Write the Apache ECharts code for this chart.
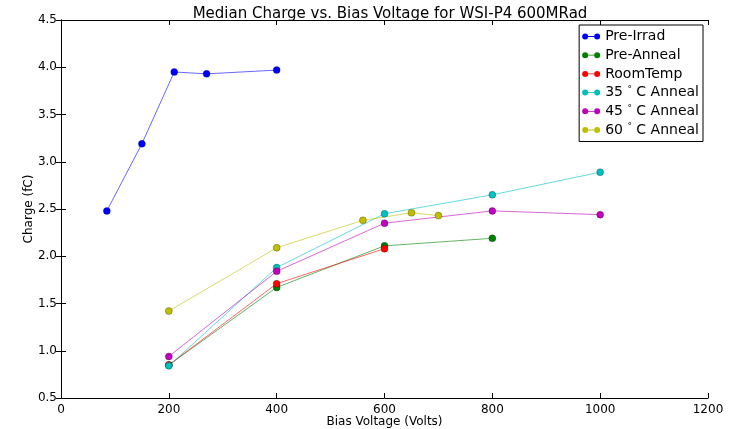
<!DOCTYPE html>
<html><head><meta charset="utf-8">
<script src="https://cdn.jsdelivr.net/npm/echarts@6/dist/echarts.min.js"></script>
<style>html,body{margin:0;padding:0;background:#fff}#c{width:730px;height:429px}</style>
</head><body><div id="c"></div>
<script>
const seriesNames = ['Pre-Irrad','Pre-Anneal','RoomTemp','35°C Anneal','45°C Anneal','60°C Anneal'];
const preIrradX = [85,150,210,270,400];
const preIrradY = [2.48,3.19,3.95,3.93,3.97];
const preAnnealX = [200,400,600,800];
const preAnnealY = [0.85,1.67,2.11,2.19];
const roomTempX = [200,400,600];
const roomTempY = [0.85,1.71,2.08];
const anneal35X = [200,400,600,800,1000];
const anneal35Y = [0.84,1.88,2.45,2.65,2.89];
const anneal45X = [200,400,600,800,1000];
const anneal45Y = [0.94,1.84,2.35,2.48,2.44];
const anneal60X = [200,400,560,650,700];
const anneal60Y = [1.42,2.09,2.38,2.46,2.43];
const xTicks = [0,200,400,600,800,1000,1200];
const yTicks = [0.5,1.0,1.5,2.0,2.5,3.0,3.5,4.0,4.5];

const colors = ['#0000ff','#008000','#ff0000','#00bfbf','#bf00bf','#bfbf00'];
const xs = [preIrradX,preAnnealX,roomTempX,anneal35X,anneal45X,anneal60X];
const ys = [preIrradY,preAnnealY,roomTempY,anneal35Y,anneal45Y,anneal60Y];
const font = 'DejaVu Sans';

const chart = echarts.init(document.getElementById('c'), null, {renderer:'canvas'});
const series = seriesNames.map((n,i)=>({
  name:n, type:'line', data: xs[i].map((x,j)=>[x, ys[i][j]]),
  symbol:'circle', symbolSize:7, showSymbol:true,
  lineStyle:{width:1, color:colors[i], opacity:0.6},
  itemStyle:{color:colors[i], borderColor:'rgba(0,0,0,0.5)', borderWidth:0.5},
  emphasis:{disabled:true}, animation:false
}));
const axisCommon = {
  axisLine:{show:true, lineStyle:{color:'#000', width:1}},
  axisTick:{show:true, inside:true, length:5, lineStyle:{color:'#000'}},
  splitLine:{show:false}
};
const icon = 'path://M3,0A3,3,0,1,1,3,6A3,3,0,1,1,3,0ZM15,0A3,3,0,1,1,15,6A3,3,0,1,1,15,0ZM3,2.6L15,2.6L15,3.4L3,3.4Z';
chart.setOption({
  animation:false,
  title:{text:'Median Charge vs. Bias Voltage for WSI-P4 600MRad', left:385, top:2, textAlign:'center',
    textStyle:{fontFamily:font, fontSize:15, fontWeight:'normal', color:'#000'}},
  grid:{left:61, right:22, top:20, bottom:31, outerBoundsMode:'none', containLabel:false},
  legend:{right:27, top:25, orient:'vertical', itemGap:3.7, itemWidth:18, itemHeight:6,
    padding:[4,4,4,3], borderColor:'#000', borderWidth:1, backgroundColor:'#fff',
    icon: icon, itemStyle:{borderWidth:0},
    formatter: n => n.replace('°C', ' {deg|°} C'),
    textStyle:{fontFamily:font, fontSize:14, color:'#000', lineHeight:15,
      rich:{deg:{fontSize:9, verticalAlign:'top', lineHeight:10, padding:[0,0,6,0]}}},
    data: seriesNames},
  xAxis:[Object.assign({type:'value', min:0, max:1200, interval:200,
      name:'Bias Voltage (Volts)', nameLocation:'middle', nameGap:18, nameMoveOverlap:false,
      nameTextStyle:{fontFamily:font, fontSize:12, color:'#000'},
      axisLabel:{fontFamily:font, fontSize:12, color:'#000', margin:6, formatter: v => String(v)}}, axisCommon),
    Object.assign({type:'value', min:0, max:1200, interval:200, position:'top',
      axisLabel:{show:false}}, axisCommon)],
  yAxis:[Object.assign({type:'value', min:0.5, max:4.5, interval:0.5,
      name:'Charge (fC)', nameLocation:'middle', nameGap:26, nameMoveOverlap:false,
      nameTextStyle:{fontFamily:font, fontSize:12, color:'#000'},
      axisLabel:{fontFamily:font, fontSize:12, color:'#000', margin:4,
        formatter: v => v.toFixed(1)}}, axisCommon),
    Object.assign({type:'value', min:0.5, max:4.5, interval:0.5, position:'right',
      axisLabel:{show:false}}, axisCommon)],
  series: series
});
</script></body></html>
